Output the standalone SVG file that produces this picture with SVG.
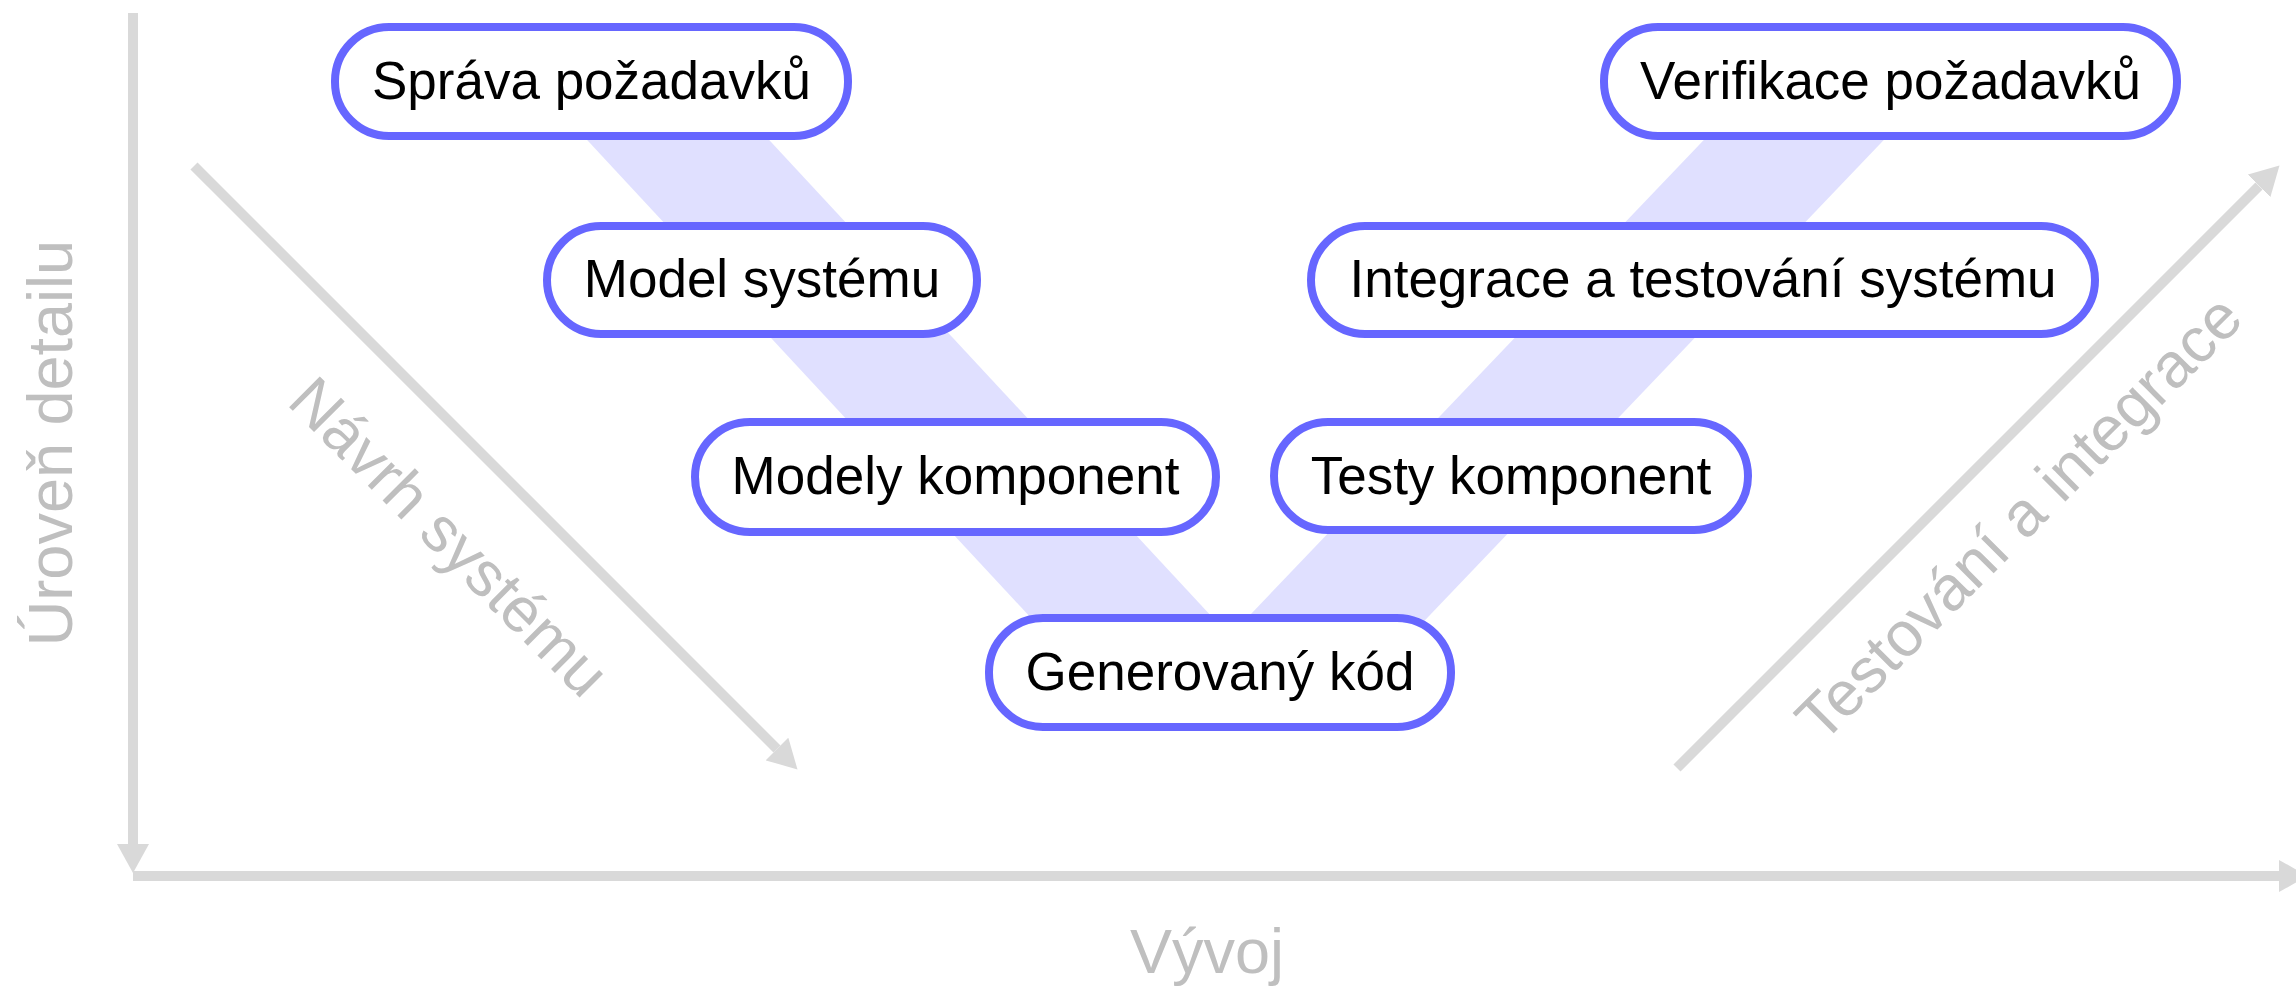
<svg xmlns="http://www.w3.org/2000/svg" width="2296" height="986" viewBox="0 0 2296 986">
<style>
.node rect{fill:#ffffff;stroke:#6666ff;stroke-width:8}
.node text{font-family:"Liberation Sans",Arial,sans-serif;font-size:53px;fill:#000000;text-anchor:middle}
.band{fill:#e0e0ff}
.axis{fill:none;stroke:#d9d9d9;stroke-width:10}
.lbl{font-family:"Liberation Sans",Arial,sans-serif;font-size:63px;fill:#bfbfbf;text-anchor:middle}
</style>
<defs>
<marker id="ah" markerUnits="userSpaceOnUse" markerWidth="30" markerHeight="32" refX="0" refY="16" orient="auto" viewBox="0 0 30 32">
<path d="M0,0 L29,16 L0,32 Z" fill="#d9d9d9"/>
</marker>
</defs>
<rect width="2296" height="986" fill="#ffffff"/>
<g id="bands">
<polygon class="band" points="550,100 732,100 1252,660 1070,660"/>
<polygon class="band" points="1742,100 1922,100 1387,660 1207,660"/>
</g>
<g id="connectors">
<path class="axis" d="M133,13 L133,844" marker-end="url(#ah)"/>
<path class="axis" d="M133,876 L2279,876" marker-end="url(#ah)"/>
<path class="axis" d="M194,166 L777,749" marker-end="url(#ah)"/>
<path class="axis" d="M1677,768 L2259,186" marker-end="url(#ah)"/>
</g>
<g id="labels">
<text class="lbl" transform="translate(72,443) rotate(-90)">Úroveň detailu</text>
<text class="lbl" x="1207" y="973">Vývoj</text>
<text class="lbl" transform="translate(434,552) rotate(45)">Návrh systému</text>
<text class="lbl" transform="translate(2034,533) rotate(-45)">Testování a integrace</text>
</g>
<g id="n1" class="node"><rect x="335" y="27" width="513" height="109" rx="54" ry="54"/><text x="591.5" y="99">Správa požadavků</text></g>
<g id="n2" class="node"><rect x="547" y="226" width="430" height="108" rx="54" ry="54"/><text x="762" y="297">Model systému</text></g>
<g id="n3" class="node"><rect x="695" y="422" width="521" height="110" rx="55" ry="55"/><text x="955.5" y="494">Modely komponent</text></g>
<g id="n4" class="node"><rect x="989" y="618" width="462" height="109" rx="54" ry="54"/><text x="1220" y="690">Generovaný kód</text></g>
<g id="n5" class="node"><rect x="1274" y="422" width="474" height="108" rx="54" ry="54"/><text x="1511" y="494">Testy komponent</text></g>
<g id="n6" class="node"><rect x="1311" y="226" width="784" height="108" rx="54" ry="54"/><text x="1703" y="297">Integrace a testování systému</text></g>
<g id="n7" class="node"><rect x="1604" y="27" width="573" height="109" rx="54" ry="54"/><text x="1890.5" y="99">Verifikace požadavků</text></g>
</svg>
